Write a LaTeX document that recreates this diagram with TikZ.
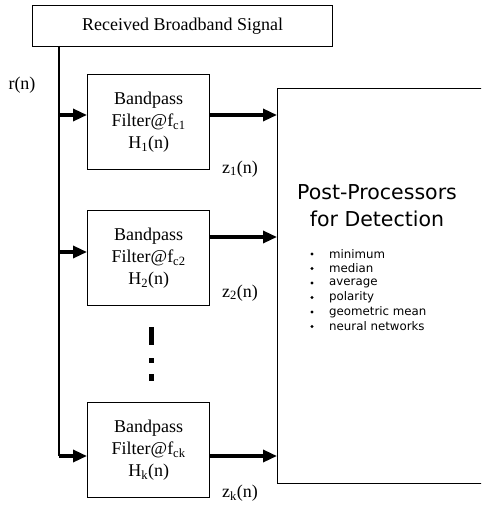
\documentclass[tikz,border=0pt]{standalone}
\usepackage{fontspec}
\setmainfont{Liberation Serif}
\newfontfamily\verdsans{DejaVu Sans}
\usetikzlibrary{arrows.meta,positioning}

\begin{document}
\begin{tikzpicture}[x=1pt,y=-1pt,
    blk/.style={draw, line width=1.3pt, inner sep=0pt, anchor=north west, align=center,
      font=\fontsize{18}{22}\selectfont},
    bus/.style={line width=1.6pt},
    feed/.style={-{Triangle[length=14pt,width=12pt]}, line width=3.3pt},
    sig/.style={font=\fontsize{18}{22}\selectfont, inner sep=0pt}]
  \useasboundingbox (0,0) rectangle (481,510);
  \clip (0,0) rectangle (481,510);
  % received signal
  \node[blk, minimum width=300, minimum height=41] (rx) at (32,5) {Received Broadband Signal};
  \node[sig] (rn) at (22,85) {r(n)};
  % filter bank
  \foreach \n/\y/\zy in {1/74/169, 2/210/293, k/402/493}{
    \node[blk, minimum width=122, minimum height=95] (f\n) at (87,\y)
      {Bandpass\\Filter@f\textsubscript{c\n}\\H\textsubscript{\n}(n)};
    \node[sig] (z\n) at (240,\zy) {z\textsubscript{\n}(n)};
  }
  % post processor
  \node[draw, line width=1.3pt, inner sep=0pt, anchor=north west,
    minimum width=220, minimum height=395] (post) at (277,88) {};
  \node[font=\verdsans\fontsize{20.5}{27}\selectfont, align=center, inner sep=0pt]
    (title) at (377,206) {Post-Processors\\for Detection};
  \foreach \w [count=\i] in {minimum,median,average,polarity,geometric mean,neural networks}{
    \fill (312,254+14.5*\i-14.5) circle (1.7);
    \node[font=\verdsans\fontsize{11.8}{13}\selectfont, anchor=west, inner sep=0pt]
      (item\i) at (329,254+14.5*\i-14.5) {\w};
  }
  % bus and taps
  \coordinate (bustop) at (59,46);
  \coordinate (tap1) at (59,115);
  \coordinate (tap2) at (59,252);
  \coordinate (tapk) at (59,456);
  \coordinate (out2) at (209,237);
  \draw[bus] (bustop) -- (tapk);
  \draw[feed] (tap1) -- (f1.west |- tap1);
  \draw[feed] (tap2) -- (f2.west |- tap2);
  \draw[feed] (tapk) -- (fk.west |- tapk);
  \draw[feed] (f1.east |- tap1) -- (post.west |- tap1);
  \draw[feed] (out2) -- (post.west |- out2);
  \draw[feed] (fk.east |- tapk) -- (post.west |- tapk);
  % dots
  \fill (149,327) rectangle (154,345);
  \fill (149,358) rectangle (154,363);
  \fill (149,374) rectangle (154,381);
\end{tikzpicture}
\end{document}
